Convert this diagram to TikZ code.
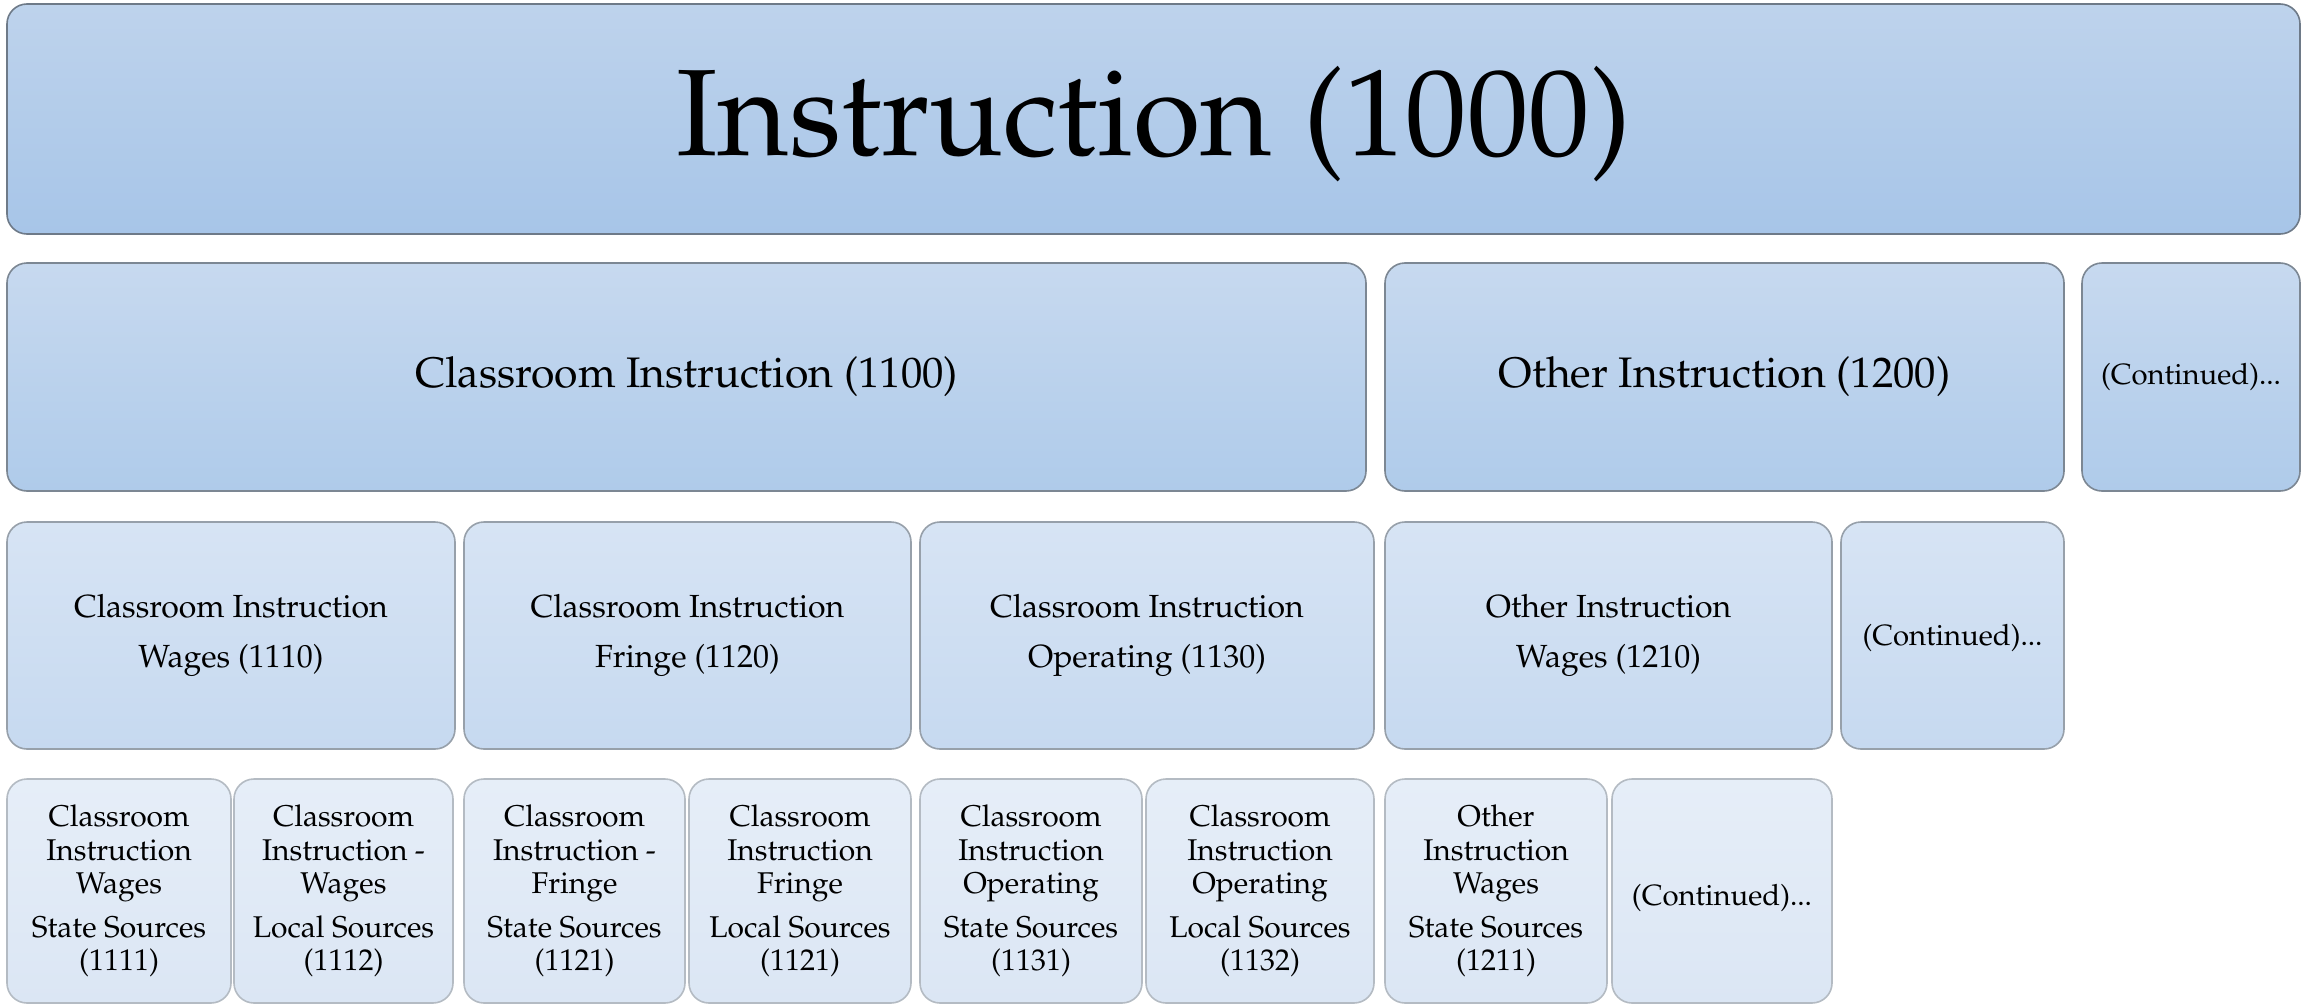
\documentclass[tikz,border=0pt]{standalone}
\usepackage[T1]{fontenc}
\usepackage{mathpazo}
\begin{document}
\begin{tikzpicture}[x=1pt,y=-1pt,
  box/.style={rectangle, rounded corners=20pt, inner sep=0pt, line width=1.6pt, align=center, text=black},
  % a strut on the first line nudges each label down a little within its box
  nudge/.style={execute at begin node={\rule{0pt}{#1}}},
  lvlA/.style={box, draw=borderA, top color=topA, bottom color=botA, font=\fontsize{123}{140}\selectfont, nudge=98pt},
  lvlB/.style={box, draw=borderB, top color=topB, bottom color=botB, font=\fontsize{42.7}{50}\selectfont},
  lvlC/.style={box, draw=borderC, top color=topC, bottom color=botC, font=\fontsize{32}{50}\selectfont, nudge=26pt},
  lvlD/.style={box, draw=borderD, top color=topD, bottom color=botD, font=\fontsize{30}{33.5}\selectfont, nudge=35pt},
  contB/.style={lvlB, font=\fontsize{29.3}{34}\selectfont},
  contC/.style={lvlC, font=\fontsize{29.3}{34}\selectfont, nudge=25pt},
  contD/.style={lvlD, font=\fontsize{29.3}{34}\selectfont, nudge=29pt},
]
\definecolor{topA}{HTML}{BED3EC}\definecolor{botA}{HTML}{A7C5E8}\definecolor{borderA}{HTML}{6E7A88}
\definecolor{topB}{HTML}{C7D9EF}\definecolor{botB}{HTML}{AFCBEA}\definecolor{borderB}{HTML}{7C8793}
\definecolor{topC}{HTML}{D7E4F4}\definecolor{botC}{HTML}{C6D9F0}\definecolor{borderC}{HTML}{97A0AA}
\definecolor{topD}{HTML}{E6EEF8}\definecolor{botD}{HTML}{DBE6F4}\definecolor{borderD}{HTML}{B4BBC3}

\useasboundingbox[fill=white] (0,0) rectangle (2304,1006);

% level 1
\node[lvlA, minimum width=2293pt, minimum height=230pt] (n1000) at (1153.5,119) {Instruction (1000)};

% level 2
\node[lvlB, minimum width=1359pt, minimum height=228pt] (n1100) at (686.5,377) {Classroom Instruction (1100)};
\node[lvlB, minimum width=679pt, minimum height=228pt] (n1200) at (1724.5,377) {Other Instruction (1200)};
\node[contB, minimum width=218pt, minimum height=228pt] (c2) at (2191,377) {(Continued)...};

% level 3
\node[lvlC, minimum width=448pt, minimum height=227pt] (n1110) at (231,635.5) {Classroom Instruction\\Wages (1110)};
\node[lvlC, minimum width=447pt, minimum height=227pt] (n1120) at (687.5,635.5) {Classroom Instruction\\Fringe (1120)};
\node[lvlC, minimum width=454pt, minimum height=227pt] (n1130) at (1147,635.5) {Classroom Instruction\\Operating (1130)};
\node[lvlC, minimum width=447pt, minimum height=227pt] (n1210) at (1608.5,635.5) {Other Instruction\\Wages (1210)};
\node[contC, minimum width=223pt, minimum height=227pt] (c3) at (1952.5,635.5) {(Continued)...};

% level 4
\begin{scope}
\clip (0,0) rectangle (2304,1006);
\node[lvlD, minimum width=224pt, minimum height=224pt] (n1111) at (119,891) {Classroom\\Instruction\\Wages\\[10pt]State Sources\\(1111)};
\node[lvlD, minimum width=219pt, minimum height=224pt] (n1112) at (343.5,891) {Classroom\\Instruction -\\Wages\\[10pt]Local Sources\\(1112)};
\node[lvlD, minimum width=221pt, minimum height=224pt] (n1121s) at (574.5,891) {Classroom\\Instruction -\\Fringe\\[10pt]State Sources\\(1121)};
\node[lvlD, minimum width=222pt, minimum height=224pt] (n1121l) at (800,891) {Classroom\\Instruction\\Fringe\\[10pt]Local Sources\\(1121)};
\node[lvlD, minimum width=222pt, minimum height=224pt] (n1131) at (1031,891) {Classroom\\Instruction\\Operating\\[10pt]State Sources\\(1131)};
\node[lvlD, minimum width=228pt, minimum height=224pt] (n1132) at (1260,891) {Classroom\\Instruction\\Operating\\[10pt]Local Sources\\(1132)};
\node[lvlD, minimum width=222pt, minimum height=224pt] (n1211) at (1496,891) {Other\\Instruction\\Wages\\[10pt]State Sources\\(1211)};
\node[contD, minimum width=220pt, minimum height=224pt] (c4) at (1722,891) {(Continued)...};
\end{scope}
\end{tikzpicture}
\end{document}
